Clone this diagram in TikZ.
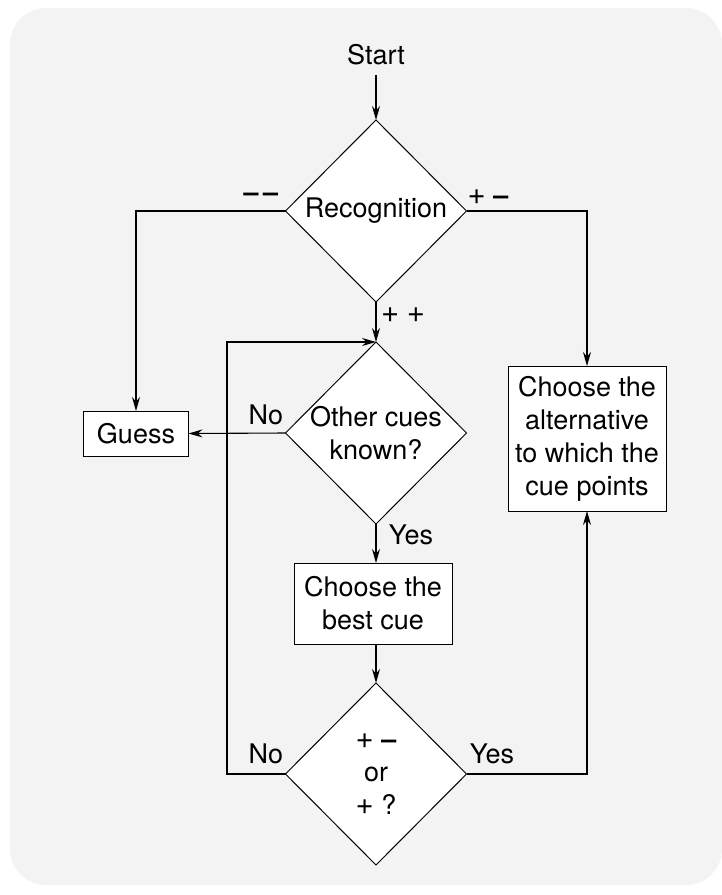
\documentclass[tikz,border=0pt]{standalone}
\usepackage{fontspec}
\setmainfont{TeX Gyre Heros}
\usetikzlibrary{shapes.geometric,arrows.meta}
\definecolor{panelgray}{HTML}{F3F3F3}
\newcommand{\plussign}{{\fontsize{31pt}{33pt}\selectfont +}}
\tikzset{
  decision/.style={diamond, draw, fill=white, line width=1pt,
    minimum width=181pt, minimum height=182pt, inner sep=0pt, outer sep=0pt},
  block/.style={rectangle, draw, fill=white, line width=1pt, outer sep=0pt, align=center},
  flow/.style={line width=1.1pt, -{Stealth[length=14pt,width=8pt]}},
}
\begin{document}
\begin{tikzpicture}[x=1pt, y=-1pt, font=\fontsize{27pt}{33pt}\selectfont]
      \useasboundingbox (0,0) rectangle (722,895);
      \fill[panelgray, rounded corners=36pt] (10,8) rectangle (722,885);
      % boxes and diamonds
      \node (start) at (376,55) {Start};
      \node[decision] (rec) at (376,211) {};
      \node (rectext) at (rec) {Recognition};
      \node[decision] (cues) at (376,433) {};
      \node[align=center] (cuestext) at (cues) {Other cues\\known?};
      \node[block, minimum width=105pt, minimum height=45pt] (guess) at (136,433.5) {Guess};
      \node[block, minimum width=158pt, minimum height=145pt] (alt) at (587,438.5)
        {Choose the\\alternative\\to which the\\cue points};
      \node[block, minimum width=158pt, minimum height=81pt] (best) at (373,603.5)
        {Choose the\\best cue};
      \node[decision] (test) at (376,774) {};
      \node[align=center] (testtext) at (test) {\plussign\ \textbf{--}\\or\\\plussign\ ?};
      \coordinate (loop) at (227,342);
      % labels
      \node (lblmm) at (261,197) {\textbf{--\,--}};
      \node (lblpm) at (488,197) {\plussign\ \textbf{--}};
      \node (lblpp) at (403,315) {\plussign\ \plussign};
      \node (lblno1) at (266,415) {No};
      \node (lblyes1) at (411,535) {Yes};
      \node (lblno2) at (266,754) {No};
      \node (lblyes2) at (492,754) {Yes};
      % connectors
      \draw[flow, shorten <=6pt] (start) -- (rec.north);
      \draw[flow] (rec.west) -| (guess.north);
      \draw[flow] (rec.east) -| (alt.north);
      \draw[flow] (rec.south) -- (cues.north);
      \draw[flow] (cues.west) -- (guess.east);
      \draw[flow] (cues.south) -- (cues.south |- best.north);
      \draw[flow] (cues.south |- best.south) -- (test.north);
      \draw[flow] (test.west) -| (loop) -- (cues.north);
      \draw[flow] (test.east) -| (alt.south);
    \end{tikzpicture}
\end{document}
